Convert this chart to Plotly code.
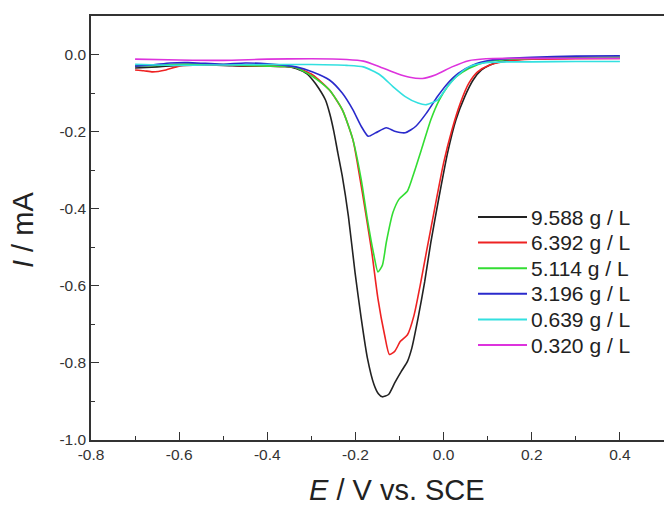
import plotly.graph_objects as go

# ---- data ----
labels = ["9.588 g / L", "6.392 g / L", "5.114 g / L", "3.196 g / L", "0.639 g / L", "0.320 g / L"]
colors = ["#222222", "#ee2222", "#33dd33", "#2a2acc", "#33e0e0", "#dd33dd"]

E_9588 = [-0.70, -0.65, -0.60, -0.55, -0.50, -0.45, -0.40, -0.36, -0.335, -0.31, -0.297, -0.283, -0.268, -0.258,
          -0.249, -0.24, -0.23, -0.216, -0.201, -0.187, -0.173, -0.158, -0.148, -0.139, -0.125, -0.111, -0.096,
          -0.082, -0.072, -0.058, -0.043, -0.029, -0.01, 0.009, 0.028, 0.048, 0.067, 0.086, 0.105, 0.13, 0.2, 0.3, 0.4]
I_9588 = [-0.035, -0.032, -0.028, -0.027, -0.028, -0.030, -0.030, -0.031, -0.036, -0.050, -0.066, -0.088, -0.118,
          -0.155, -0.20, -0.255, -0.315, -0.42, -0.565, -0.684, -0.787, -0.856, -0.880, -0.888, -0.882, -0.852,
          -0.822, -0.796, -0.761, -0.684, -0.59, -0.487, -0.367, -0.255, -0.169, -0.109, -0.066, -0.04, -0.027,
          -0.018, -0.010, -0.008, -0.007]

E_6392 = [-0.70, -0.68, -0.66, -0.63, -0.60, -0.55, -0.50, -0.45, -0.40, -0.36, -0.335, -0.297, -0.259, -0.23,
          -0.206, -0.192, -0.177, -0.163, -0.149, -0.134, -0.123, -0.111, -0.098, -0.082, -0.067, -0.053, -0.039,
          -0.019, 0.0, 0.019, 0.038, 0.057, 0.077, 0.105, 0.15, 0.2, 0.3, 0.4]
I_6392 = [-0.040, -0.042, -0.045, -0.040, -0.030, -0.027, -0.027, -0.029, -0.030, -0.031, -0.034, -0.053, -0.092,
          -0.143, -0.22, -0.306, -0.41, -0.512, -0.633, -0.727, -0.778, -0.770, -0.744, -0.727, -0.676, -0.598,
          -0.512, -0.392, -0.281, -0.195, -0.126, -0.075, -0.045, -0.027, -0.016, -0.012, -0.011, -0.010]

E_5114 = [-0.70, -0.65, -0.60, -0.55, -0.50, -0.45, -0.40, -0.36, -0.335, -0.297, -0.259, -0.23, -0.206, -0.187,
          -0.173, -0.158, -0.149, -0.139, -0.13, -0.115, -0.101, -0.082, -0.067, -0.048, -0.029, -0.01, 0.009,
          0.028, 0.057, 0.096, 0.15, 0.2, 0.3, 0.4]
I_5114 = [-0.030, -0.028, -0.025, -0.025, -0.026, -0.028, -0.030, -0.031, -0.034, -0.057, -0.092, -0.143, -0.22,
          -0.324, -0.427, -0.521, -0.564, -0.547, -0.487, -0.41, -0.375, -0.354, -0.306, -0.238, -0.169, -0.118,
          -0.083, -0.058, -0.036, -0.019, -0.012, -0.010, -0.009, -0.008]

E_3196 = [-0.70, -0.66, -0.62, -0.58, -0.54, -0.50, -0.45, -0.40, -0.36, -0.335, -0.297, -0.259, -0.23, -0.206,
          -0.187, -0.171, -0.154, -0.13, -0.111, -0.087, -0.063, -0.039, -0.014, 0.009, 0.033, 0.067, 0.105,
          0.15, 0.2, 0.3, 0.4]
I_3196 = [-0.030, -0.027, -0.022, -0.021, -0.023, -0.025, -0.022, -0.024, -0.028, -0.032, -0.045, -0.066, -0.10,
          -0.143, -0.186, -0.212, -0.203, -0.19, -0.199, -0.203, -0.186, -0.152, -0.109, -0.075, -0.049, -0.027,
          -0.015, -0.010, -0.007, -0.004, -0.003]

E_0639 = [-0.70, -0.60, -0.50, -0.40, -0.30, -0.22, -0.182, -0.144, -0.115, -0.087, -0.058, -0.039, -0.014,
          0.009, 0.033, 0.057, 0.096, 0.15, 0.2, 0.3, 0.4]
I_0639 = [-0.025, -0.028, -0.027, -0.026, -0.026, -0.028, -0.032, -0.053, -0.083, -0.109, -0.126, -0.13, -0.118,
          -0.083, -0.053, -0.032, -0.021, -0.019, -0.019, -0.018, -0.018]

E_0320 = [-0.70, -0.60, -0.50, -0.40, -0.30, -0.22, -0.182, -0.144, -0.106, -0.077, -0.048, -0.019, 0.019,
          0.057, 0.096, 0.15, 0.2, 0.3, 0.4]
I_0320 = [-0.012, -0.014, -0.015, -0.012, -0.011, -0.013, -0.017, -0.032, -0.049, -0.059, -0.062, -0.053, -0.032,
          -0.016, -0.011, -0.010, -0.010, -0.010, -0.010]

series_E = [E_9588, E_6392, E_5114, E_3196, E_0639, E_0320]
series_I = [I_9588, I_6392, I_5114, I_3196, I_0639, I_0320]

x_ticks = [-0.8, -0.6, -0.4, -0.2, 0.0, 0.2, 0.4]
x_ticklabels = ["-0.8", "-0.6", "-0.4", "-0.2", "0.0", "0.2", "0.4"]
y_ticks = [0.0, -0.2, -0.4, -0.6, -0.8, -1.0]
y_ticklabels = ["0.0", "-0.2", "-0.4", "-0.6", "-0.8", "-1.0"]

# ---- layout geometry (pixels) ----
W, H = 664, 508
ML, MR, MT, MB = 91, 0, 16, 68
PW, PH = W - ML - MR, H - MT - MB


def px_x(px):
    return (px - ML) / PW


def px_y(py):
    return (H - MB - py) / PH


FONT = "Arial, Liberation Sans, sans-serif"

# ---- figure ----
fig = go.Figure()
for E, I, name, c in zip(series_E, series_I, labels, colors):
    fig.add_trace(go.Scatter(x=E, y=I, mode="lines", name=name, showlegend=False,
                             line=dict(color=c, width=1.6, shape="spline", smoothing=0.6)))

# legend drawn as a key (line sample + label) at fixed page positions
shapes = []
annotations = []
leg_x0, leg_x1, leg_text_x = 478, 527, 529
leg_y0, leg_dy = 217, 25.6
for k, (name, c) in enumerate(zip(labels, colors)):
    yy = px_y(leg_y0 + k * leg_dy)
    shapes.append(dict(type="line", xref="paper", yref="paper", x0=px_x(leg_x0), x1=px_x(leg_x1),
                       y0=yy, y1=yy, line=dict(color=c, width=2)))
    annotations.append(dict(text=name, xref="paper", yref="paper", x=px_x(leg_text_x), y=yy,
                            xanchor="left", yanchor="middle", showarrow=False,
                            font=dict(family=FONT, size=21, color="#222222")))

annotations += [
    dict(text="<i>E</i> / V vs. SCE", xref="paper", yref="paper", x=px_x(397), y=px_y(490),
         xanchor="center", yanchor="middle", showarrow=False,
         font=dict(family=FONT, size=29, color="#222222")),
    dict(text="<i>I</i> / mA", xref="paper", yref="paper", x=px_x(23), y=px_y(230),
         xanchor="center", yanchor="middle", showarrow=False, textangle=-90,
         font=dict(family=FONT, size=29, color="#222222")),
]

axis_font = dict(family=FONT, size=15.5, color="#333333")
fig.update_layout(
    width=W, height=H,
    margin=dict(l=ML, r=MR, t=MT, b=MB),
    paper_bgcolor="white", plot_bgcolor="white",
    showlegend=False,
    xaxis=dict(range=[-0.8, 0.5], tickvals=x_ticks, ticktext=x_ticklabels, tickfont=axis_font,
               ticks="inside", ticklen=8, tickwidth=1.3, tickcolor="#333333",
               minor=dict(dtick=0.1, tick0=-0.8, ticks="inside", ticklen=4, tickwidth=1.3, tickcolor="#333333"),
               showline=True, linecolor="#333333", linewidth=1.5, mirror=True,
               showgrid=False, zeroline=False),
    yaxis=dict(range=[-1.0, 0.1], tickvals=y_ticks, ticktext=y_ticklabels, tickfont=axis_font,
               ticks="inside", ticklen=8, tickwidth=1.3, tickcolor="#333333",
               minor=dict(dtick=0.1, tick0=0.0, ticks="inside", ticklen=4, tickwidth=1.3, tickcolor="#333333"),
               showline=True, linecolor="#333333", linewidth=1.5,
               showgrid=False, zeroline=False),
    shapes=shapes,
    annotations=annotations,
)

fig.write_html("out.html")
